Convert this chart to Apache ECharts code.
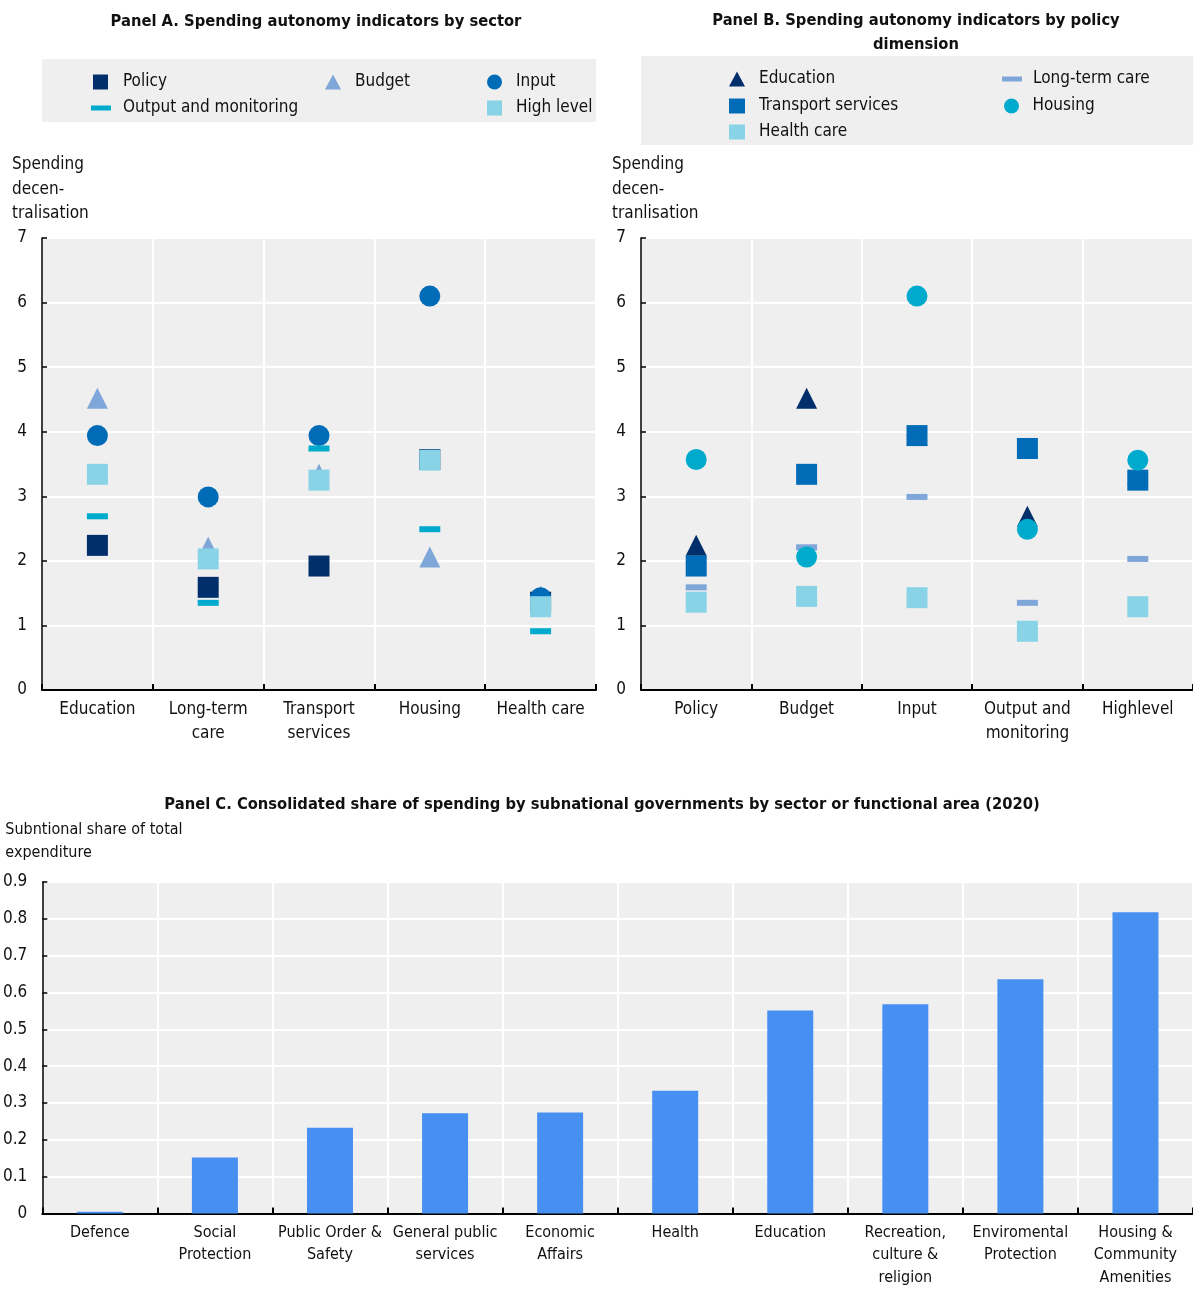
<!DOCTYPE html>
<html><head><meta charset="utf-8">
<script src="https://cdn.jsdelivr.net/npm/echarts@6/dist/echarts.min.js"></script>
<style>html,body{margin:0;padding:0;background:#fff}#c{width:1193px;height:1289px}</style>
</head><body><div id="c"></div>
<script>
// ---------- Data ----------
const sectorsA = ['Education', 'Long-term\ncare', 'Transport\nservices', 'Housing', 'Health care'];
const policyA    = [2.24, 1.59, 1.92, 3.57, 1.36];
const budgetA    = [4.52, 2.21, 3.34, 2.06, 1.45];
const inputA     = [3.94, 2.99, 3.94, 6.10, 1.43];
const outputA    = [2.69, 1.35, 3.74, 2.49, 0.91];
const highLevelA = [3.34, 2.03, 3.25, 3.56, 1.29];

const dimensionsB = ['Policy', 'Budget', 'Input', 'Output and\nmonitoring', 'Highlevel'];
const educationB = [2.24, 4.52, 3.94, 2.69, 3.34];
const transportB = [1.92, 3.34, 3.94, 3.74, 3.25];
const healthB    = [1.36, 1.45, 1.43, 0.91, 1.29];
const ltcB       = [1.59, 2.21, 2.99, 1.35, 2.03];
const housingB   = [3.57, 2.06, 6.10, 2.49, 3.56];

const areasC = ['Defence', 'Social\nProtection', 'Public Order &\nSafety', 'General public\nservices',
  'Economic\nAffairs', 'Health', 'Education', 'Recreation,\nculture &\nreligion',
  'Enviromental\nProtection', 'Housing &\nCommunity\nAmenities'];
const shareC = [0.005, 0.152, 0.233, 0.272, 0.274, 0.333, 0.551, 0.568, 0.636, 0.818];

const ticksAB = [0, 1, 2, 3, 4, 5, 6, 7];
const ticksC = [0, 0.1, 0.2, 0.3, 0.4, 0.5, 0.6, 0.7, 0.8, 0.9];

// ---------- Style ----------
const FONT = "'DejaVu Sans Condensed','Liberation Sans Narrow','Arial Narrow',sans-serif";
const TXT = '#111';
const NAVY = '#002F6C', BLUE = '#006BB6', CYAN = '#00AACC', STEEL = '#7FA6D8', LCYAN = '#89D3E6';
const BAR = '#4790F2', PANEL = '#EFEFEF';

function catAxis(gi, cats, fs, lh) {
  return {
    type: 'category', gridIndex: gi, data: cats, boundaryGap: true,
    axisLine: {lineStyle: {color: '#000', width: 2}},
    axisTick: {show: true, inside: true, length: 6, lineStyle: {color: '#000', width: 2}},
    axisLabel: {interval: 0, color: TXT, fontSize: fs, lineHeight: lh, margin: 8, fontFamily: FONT},
    splitLine: {show: true, lineStyle: {color: '#fff', width: 2}}
  };
}
function valAxis(gi, ticks, name, nameOpts) {
  const step = +(ticks[1] - ticks[0]).toFixed(6);
  return Object.assign({
    type: 'value', gridIndex: gi, min: ticks[0], max: ticks[ticks.length - 1], interval: step,
    axisLine: {show: true, lineStyle: {color: '#000', width: 1.5}},
    axisTick: {show: true, inside: true, length: 5, lineStyle: {color: '#000', width: 1.5}},
    axisLabel: {color: TXT, fontSize: 17, margin: 15, fontFamily: FONT},
    splitLine: {show: true, lineStyle: {color: '#fff', width: 2}},
    name: name, nameLocation: 'end'
  }, nameOpts);
}
function leg(name, icon, left, centerY, w, h, pad) {
  return {
    data: [{name: name, icon: icon}], left: left, top: centerY - 8, padding: 0,
    itemWidth: w, itemHeight: h, itemGap: 0,
    textStyle: {fontSize: 17, lineHeight: 20, color: TXT, fontFamily: FONT, padding: [0, 0, 0, pad]}
  };
}
function sc(name, x, data, symbol, size, color) {
  return {name: name, type: 'scatter', xAxisIndex: x, yAxisIndex: x, data: data,
    symbol: symbol, symbolSize: size, itemStyle: {color: color, opacity: 1}};
}
const titleStyle = {fontSize: 16.4, fontWeight: 'bold', color: TXT, fontFamily: FONT, lineHeight: 24};

const chart = echarts.init(document.getElementById('c'));
chart.setOption({
  animation: false,
  textStyle: {fontFamily: FONT},
  title: [
    {text: 'Panel A. Spending autonomy indicators by sector', left: 316, top: 10, padding: 0,
      textAlign: 'center', textStyle: titleStyle},
    {text: 'Panel B. Spending autonomy indicators by policy\ndimension', left: 916, top: 9, padding: 0,
      textAlign: 'center', textStyle: titleStyle},
    {text: 'Panel C. Consolidated share of spending by subnational governments by sector or functional area (2020)',
      left: 602, top: 793, padding: 0, textAlign: 'center', textStyle: titleStyle}
  ],
  graphic: [
    {type: 'rect', left: 42, top: 59, shape: {width: 554, height: 63}, style: {fill: PANEL}, z: -1},
    {type: 'rect', left: 641, top: 56, shape: {width: 552, height: 89}, style: {fill: PANEL}, z: -1}
  ],
  legend: [
    leg('Policy', 'rect', 93, 80, 15, 15, 10),
    leg('Budget', 'triangle', 325, 80, 16, 15, 9),
    leg('Input', 'circle', 487, 80, 15, 15, 9),
    leg('Output and monitoring', 'rect', 91, 106, 20, 5, 7),
    leg('High level', 'rect', 487, 106, 15, 15, 9),
    leg('Education', 'triangle', 729, 77, 16, 15, 9),
    leg('Transport services', 'rect', 729, 104, 16, 15, 9),
    leg('Health care', 'rect', 729, 130, 16, 15, 9),
    leg('Long-term care', 'rect', 1002, 77, 20, 5, 6),
    leg('Housing', 'circle', 1004, 104, 16, 15, 8)
  ],
  grid: [
    {left: 42, top: 238, width: 554, height: 452, show: true, backgroundColor: PANEL, borderWidth: 0},
    {left: 641, top: 238, width: 552, height: 452, show: true, backgroundColor: PANEL, borderWidth: 0},
    {left: 42, top: 882, width: 1151, height: 335, show: true, backgroundColor: PANEL, borderWidth: 0}
  ],
  xAxis: [
    catAxis(0, sectorsA, 17, 24),
    catAxis(1, dimensionsB, 17, 24),
    catAxis(2, areasC, 16, 22.5)
  ],
  yAxis: [
    valAxis(0, ticksAB, 'Spending\ndecen-\ntralisation', {nameGap: 12,
      nameTextStyle: {align: 'left', verticalAlign: 'bottom', fontSize: 17, lineHeight: 24.5, color: TXT, fontFamily: FONT, padding: [0, 0, 0, -30]}}),
    valAxis(1, ticksAB, 'Spending\ndecen-\ntranlisation', {nameGap: 12,
      nameTextStyle: {align: 'left', verticalAlign: 'bottom', fontSize: 17, lineHeight: 24.5, color: TXT, fontFamily: FONT, padding: [0, 0, 0, -29]}}),
    valAxis(2, ticksC, 'Subntional share of total\nexpenditure', {nameGap: 18,
      nameTextStyle: {align: 'left', verticalAlign: 'bottom', fontSize: 16, lineHeight: 23, color: TXT, fontFamily: FONT, padding: [0, 0, 0, -37]}})
  ],
  series: [
    sc('Policy', 0, policyA, 'rect', 21, NAVY),
    sc('Budget', 0, budgetA, 'triangle', [21, 21], STEEL),
    sc('Input', 0, inputA, 'circle', 21, BLUE),
    sc('Output and monitoring', 0, outputA, 'rect', [21, 6], CYAN),
    sc('High level', 0, highLevelA, 'rect', 21, LCYAN),

    sc('Education', 1, educationB, 'triangle', [21, 21], NAVY),
    sc('Transport services', 1, transportB, 'rect', 21, BLUE),
    sc('Health care', 1, healthB, 'rect', 21, LCYAN),
    sc('Long-term care', 1, ltcB, 'rect', [21, 6], STEEL),
    sc('Housing', 1, housingB, 'circle', 21, CYAN),

    {name: 'Share', type: 'bar', xAxisIndex: 2, yAxisIndex: 2, data: shareC, barWidth: 46,
      itemStyle: {color: BAR}}
  ]
});
</script>
</body></html>
